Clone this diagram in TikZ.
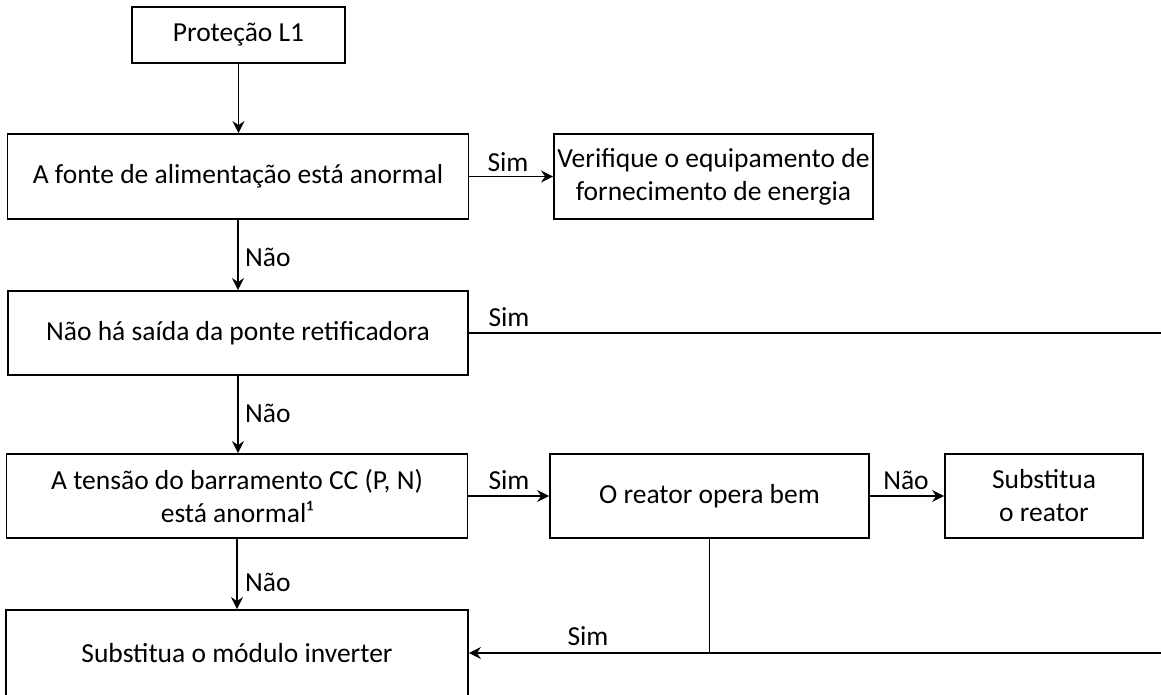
\documentclass[tikz,border=0pt]{standalone}
\usepackage{fontspec}
\setmainfont{Carlito}
\usetikzlibrary{arrows.meta}
\begin{document}
\begin{tikzpicture}[x=1pt,y=-1pt,
  box/.style={draw, line width=1.8pt, inner sep=0pt, align=center, font=\fontsize{27.5}{33}\selectfont},
  lbl/.style={font=\fontsize{27.5}{33}\selectfont, inner sep=0pt},
  conn/.style={line width=1.8pt},
  arr/.style={conn, -{Stealth[length=12pt,width=12pt,inset=4pt]}}]
\clip (0,0) rectangle (1161,694);
\node[box, minimum width=213pt, minimum height=56pt] (p1) at (238.5,35) {Proteção L1};
\node[box, minimum width=461pt, minimum height=85pt] (fonte) at (238,176.5) {A fonte de alimentação está anormal};
\node[box, minimum width=319pt, minimum height=85pt] (verif) at (713.5,176.5) {Verifique o equipamento de\\fornecimento de energia};
\node[box, minimum width=460pt, minimum height=84pt] (ponte) at (238,333) {Não há saída da ponte retificadora};
\node[box, minimum width=461pt, minimum height=84pt] (tensao) at (237,496) {A tensão do barramento CC (P, N)\\está anormal¹};
\node[box, minimum width=319pt, minimum height=84pt] (reator) at (709.5,496) {O reator opera bem};
\node[box, minimum width=198pt, minimum height=84pt] (subr) at (1044,496) {Substitua\\o reator};
\node[box, minimum width=462pt, minimum height=86pt] (modulo) at (237,653) {Substitua o módulo inverter};
\coordinate (e1) at (1170,333);
\coordinate (e2) at (1170,653);
\draw[arr] (p1.south) -- (p1.south |- fonte.north);
\draw[arr] (fonte.east) -- (verif.west);
\draw[arr] (fonte.south) -- (fonte.south |- ponte.north);
\draw[conn] (ponte.east) -- (e1);
\draw[arr] (ponte.south) -- (ponte.south |- tensao.north);
\draw[arr] (tensao.east) -- (reator.west);
\draw[arr] (reator.east) -- (subr.west);
\draw[arr] (tensao.south) -- (tensao.south |- modulo.north);
\draw[conn] (reator.south) -- (reator.south |- e2);
\draw[arr] (e2) -- (modulo.east);
\node[lbl] (l1) at (508,162) {Sim};
\node[lbl, anchor=west] (l2) at (245,257) {Não};
\node[lbl] (l3) at (509,317) {Sim};
\node[lbl, anchor=west] (l4) at (245,413) {Não};
\node[lbl] (l5) at (509,480) {Sim};
\node[lbl] (l6) at (906,480) {Não};
\node[lbl, anchor=west] (l7) at (245,582) {Não};
\node[lbl] (l8) at (588,636) {Sim};
\end{tikzpicture}
\end{document}
